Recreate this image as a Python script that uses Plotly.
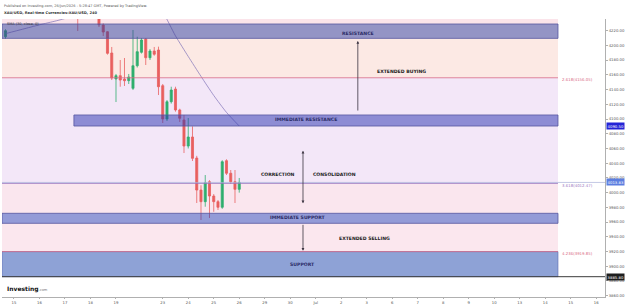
import plotly.graph_objects as go

# ---------------- data ----------------
bar_idx = [-22, -5] + list(range(0, 34))
opens = [4211.8, 4250.0,
         4237.0, 4227.7, 4218.6, 4189.7, 4154.4, 4158.9, 4154.4, 4152.1, 4141.7, 4172.4,
         4190.7, 4208.7, 4183.3, 4192.4, 4193.8, 4145.3, 4100.0, 4123.5, 4140.8, 4112.3,
         4098.7, 4063.3, 4075.6, 4047.0, 4003.5, 3987.7, 4014.8, 3995.4, 3987.7, 3980.1,
         4043.4, 4026.3, 4014.8, 4004.5]
highs = [4222.0, 4256.0,
         4246.0, 4230.0, 4219.5, 4197.9, 4161.2, 4180.2, 4182.9, 4161.2, 4221.0, 4211.8,
         4210.0, 4210.0, 4195.0, 4197.9, 4198.3, 4147.6, 4125.8, 4143.9, 4143.9, 4114.0,
         4105.5, 4101.4, 4090.0, 4050.0, 4010.0, 4023.9, 4017.0, 3998.0, 3990.0, 4044.0,
         4045.3, 4030.7, 4030.7, 4019.9]
lows = [4209.0, 4219.6,
        4225.0, 4212.8, 4187.5, 4153.0, 4123.1, 4143.9, 4144.9, 4147.6, 4139.4, 4170.0,
        4189.0, 4173.4, 4180.2, 4186.0, 4132.6, 4094.6, 4097.3, 4121.0, 4110.0, 4096.0,
        4053.8, 4060.0, 4043.0, 3985.9, 3962.8, 3980.9, 3965.5, 3974.0, 3976.4, 3978.0,
        4024.0, 4012.0, 3985.9, 4000.0]
closes = [4220.0, 4244.0,
          4228.0, 4218.2, 4189.3, 4155.7, 4158.9, 4153.0, 4152.1, 4157.1, 4172.4, 4191.5,
          4207.4, 4183.3, 4192.4, 4188.0, 4143.9, 4100.0, 4123.5, 4139.4, 4112.3, 4101.0,
          4063.3, 4075.6, 4046.6, 4003.5, 3987.7, 4013.5, 3995.4, 3987.7, 3980.1, 4042.0,
          4026.3, 4014.8, 4004.5, 4013.83]

sma_idx = [-22, -18, -14, -10, -6, -2, 3, 9, 12, 15, 18, 21, 24, 27, 30, 33]
sma_val = [4216, 4222, 4228, 4233.5, 4240, 4250, 4262, 4268, 4260, 4245, 4213, 4185,
           4158, 4132, 4109, 4090.5]

day_ticks = [-20, -14, -8, -2, 4, 15, 21, 27, 33, 39, 45, 51, 57, 63, 69, 75, 81, 87,
             93, 99, 105, 111, 117]
day_labels = ["15", "16", "17", "18", "19", "23", "24", "25", "26", "29", "30", "Jul",
              "2", "3", "6", "7", "8", "9", "10", "13", "14", "15", "16"]
price_ticks = list(range(3860, 4221, 20))

# zones (price levels)
resistance = (4209.6, 4229.1)
imm_resistance = (4090.5, 4105.5)
imm_support = (3958.3, 3971.9)
support = (3885.8, 3919.85)
fib_levels = [4156.05, 4012.47, 3919.85]
fib_texts = ["2.618(4156.05)", "3.618(4012.47)", "4.236(3919.85)"]
fib_colors = ["#d86a85", "#9a78c0", "#d86a85"]
last_price = 4013.83
ma_last = 4090.50
hline_price = 3885.80

X_MIN, X_MAX = -22.82, 119.06
Y_MIN, Y_MAX = 3858.2, 4235.9
ZONE_L, ZONE_R, IMMRES_L = X_MIN, 108.0, -5.9

FONT = "DejaVu Sans"

fig = go.Figure()
fig.add_trace(go.Candlestick(
    x=bar_idx, open=opens, high=highs, low=lows, close=closes,
    increasing=dict(line=dict(color="#2fae6e", width=0.8), fillcolor="#2fae6e"),
    decreasing=dict(line=dict(color="#e8605f", width=0.8), fillcolor="#e8605f"),
    whiskerwidth=0, showlegend=False, hoverinfo="skip"))
fig.add_trace(go.Scatter(x=sma_idx, y=sma_val, mode="lines",
                         line=dict(color="#8072b8", width=0.7, shape="spline", smoothing=0.6),
                         showlegend=False, hoverinfo="skip"))

shapes = []
def rect(y0, y1, color, x0=ZONE_L, x1=ZONE_R, layer="below", opacity=1.0, line=None):
    shapes.append(dict(type="rect", xref="x", yref="y", x0=x0, x1=x1, y0=y0, y1=y1,
                       fillcolor=color, opacity=opacity, layer=layer,
                       line=line or dict(width=0)))

# background fills
rect(resistance[1], Y_MAX, "#fbe4ea")
rect(fib_levels[0], resistance[0], "#fce9e4")
rect(fib_levels[1], fib_levels[0], "#f3e7f8")
rect(imm_support[1], fib_levels[1], "#fae6ee")
rect(fib_levels[2], imm_support[0], "#fbe7ee")

# bands (above candles, semi transparent)
band_line = dict(color="#5656a0", width=0.8)
rect(resistance[0], resistance[1], "rgba(60,60,150,0.55)", layer="above", line=band_line)
rect(imm_resistance[0], imm_resistance[1], "rgba(40,50,175,0.5)", x0=IMMRES_L,
     layer="above", line=band_line)
rect(imm_support[0], imm_support[1], "rgba(40,55,175,0.5)", layer="above", line=band_line)
rect(support[0], support[1], "rgba(50,85,180,0.55)", layer="above",
     line=dict(color="#5a6ab0", width=0.6))

# fib lines
for lv, c in zip(fib_levels, fib_colors):
    shapes.append(dict(type="line", xref="x", yref="y", x0=ZONE_L, x1=ZONE_R, y0=lv, y1=lv,
                       line=dict(color=c, width=0.8), layer="above"))
# price line and horizontal black line
shapes.append(dict(type="line", xref="paper", yref="y", x0=0, x1=1, y0=last_price,
                   y1=last_price, line=dict(color="#a9b2d8", width=0.7),
                   layer="above"))
shapes.append(dict(type="line", xref="paper", yref="y", x0=0, x1=1, y0=hline_price,
                   y1=hline_price, line=dict(color="#3a3a3a", width=1), layer="above"))

ann = []
def label(x, y, text, color="#2b2b66", size=4.6):
    ann.append(dict(x=x, y=y, xref="x", yref="y", text="<b>%s</b>" % text, showarrow=False,
                    font=dict(family=FONT, size=size, color=color), xanchor="center",
                    yanchor="middle"))

label(60.9, 4216.5, "RESISTANCE")
label(71.1, 4164.3, "EXTENDED BUYING", color="#222222")
label(48.7, 4098.7, "IMMEDIATE RESISTANCE")
label(42.1, 4024.0, "CORRECTION", color="#222222")
label(55.3, 4024.0, "CONSOLIDATION", color="#222222")
label(46.8, 3965.9, "IMMEDIATE SUPPORT")
label(62.4, 3938.3, "EXTENDED SELLING", color="#222222")
label(48.0, 3901.7, "SUPPORT")

def arrow(x, y_head, y_tail, both=False):
    ann.append(dict(x=x, y=y_head, ax=x, ay=y_tail, xref="x", yref="y", axref="x",
                    ayref="y", text="", showarrow=True, arrowhead=2, arrowsize=0.7,
                    arrowwidth=0.8, arrowcolor="#3a3340",
                    arrowside="end+start" if both else "end"))

arrow(60.9, 4206.0, 4109.5)
arrow(48.0, 3985.5, 4058.9, both=True)
arrow(48.0, 3921.0, 3958.3)

for lv, t, c in zip(fib_levels, fib_texts, fib_colors):
    ann.append(dict(x=108.5, y=lv, xref="x", yref="y", text=t, showarrow=False,
                    xanchor="left", yanchor="middle", yshift=-2,
                    font=dict(family=FONT, size=3.9, color=c)))

# axis price labels
for val, bg in [(ma_last, "#2424d6"), (last_price, "#5c7ee0"), (hline_price, "#1e1e1e")]:
    ann.append(dict(x=1, y=val, xref="paper", yref="y", text="%.2f" % val, showarrow=False,
                    xanchor="left", yanchor="middle", xshift=1, bgcolor=bg, borderpad=0.6,
                    font=dict(family=FONT, size=3.8, color="white")))

# header / legend / logo
ann.append(dict(x=0, y=1.0478, xref="paper", yref="paper", xanchor="left", yanchor="middle",
                text="Published on Investing.com, 26/Jun/2026 - 5:28:47 GMT, Powered by TradingView.",
                showarrow=False, font=dict(family=FONT, size=3.5, color="#555555")))
ann.append(dict(x=0, y=1.0205, xref="paper", yref="paper", xanchor="left", yanchor="middle",
                text="<b>XAU/USD, Real-time Currencies:XAU/USD, 240</b>",
                showarrow=False, font=dict(family=FONT, size=3.6, color="#333333")))
ann.append(dict(x=0, y=0.982, xref="paper", yref="paper", xanchor="left", yanchor="middle",
                xshift=3, text="SMA (30, close, 0)", showarrow=False,
                font=dict(family=FONT, size=3.5, color="#333333")))
ann.append(dict(x=0, y=0.0277, xref="paper", yref="paper", xanchor="left", yanchor="middle",
                xshift=3,
                text="<b>Investing</b><span style='font-size:3.6px;color:#777'>.com</span>",
                showarrow=False, font=dict(family=FONT, size=6, color="#111111")))

fig.update_layout(
    width=625, height=305, margin=dict(l=2, r=20, t=19, b=8),
    paper_bgcolor="white", plot_bgcolor="white", shapes=shapes, annotations=ann,
    showlegend=False, font=dict(family=FONT),
    xaxis=dict(range=[X_MIN, X_MAX], tickmode="array", tickvals=day_ticks,
               ticktext=day_labels, showgrid=False, zeroline=False, showline=True,
               linecolor="#b0b0b0", linewidth=0.8, ticks="outside", ticklen=1.5,
               tickcolor="#b0b0b0", tickfont=dict(size=3.8, color="#555555"),
               rangeslider=dict(visible=False), automargin=False, fixedrange=True),
    yaxis=dict(range=[Y_MIN, Y_MAX], side="right", tickmode="array", tickvals=price_ticks,
               tickformat=".2f", showgrid=False, zeroline=False, showline=True,
               linecolor="#b0b0b0", linewidth=0.8, ticks="outside", ticklen=2,
               tickcolor="#b0b0b0", tickfont=dict(size=3.8, color="#555555"),
               automargin=False, fixedrange=True),
)

fig.write_html("out.html")
